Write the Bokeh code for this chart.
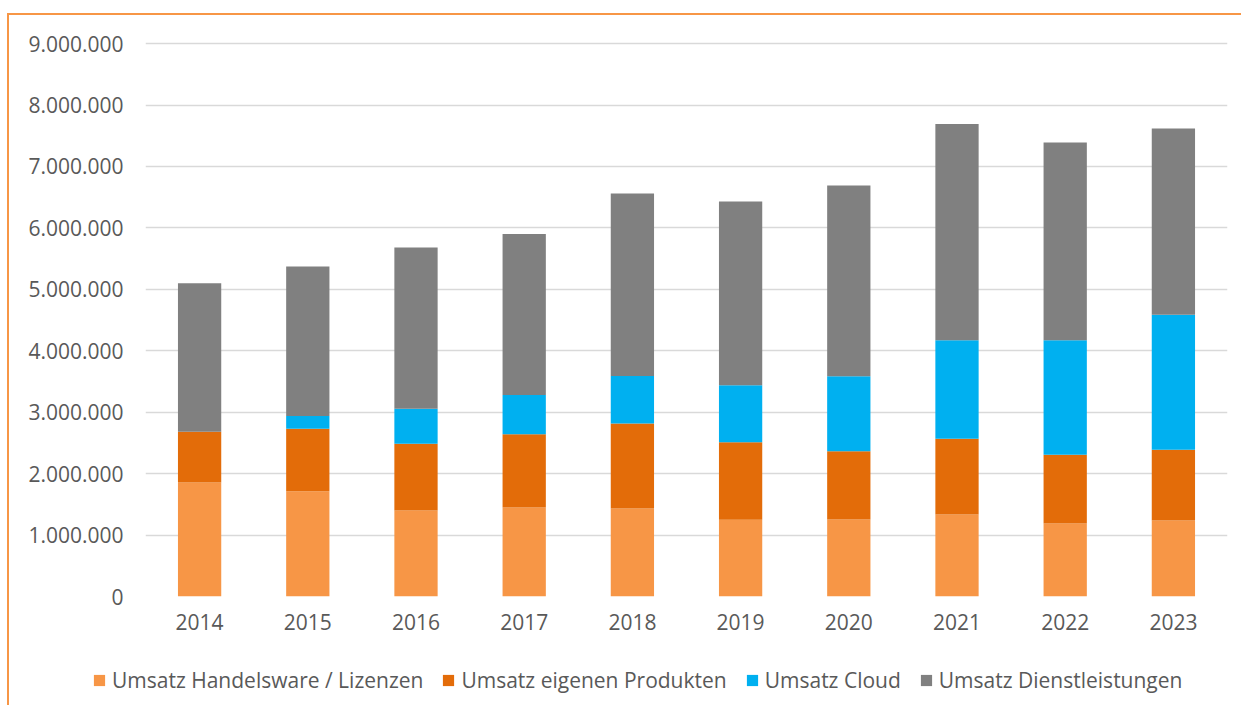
from bokeh.plotting import figure
from bokeh.layouts import column
from bokeh.models import ColumnDataSource, Legend, LegendItem, CustomJSTickFormatter, FixedTicker, Range1d
from bokeh.embed import file_html
from bokeh.resources import INLINE

years = ["2014", "2015", "2016", "2017", "2018", "2019", "2020", "2021", "2022", "2023"]
handelsware = [1855000, 1714000, 1400000, 1449000, 1432000, 1250000, 1253000, 1335000, 1188000, 1237000]
eigene = [825000, 1016000, 1085000, 1191000, 1384000, 1260000, 1112000, 1231000, 1118000, 1151000]
cloud = [0, 210000, 570000, 640000, 774000, 930000, 1221000, 1604000, 1864000, 2197000]
dienst = [2420000, 2430000, 2625000, 2620000, 2970000, 2990000, 3104000, 3520000, 3220000, 3032000]

series = ["handelsware", "eigene", "cloud", "dienst"]
labels = ["Umsatz Handelsware / Lizenzen", "Umsatz eigenen Produkten", "Umsatz Cloud", "Umsatz Dienstleistungen"]
colors = ["#F79646", "#E36C09", "#00B0F0", "#808080"]
yticks = [0, 1000000, 2000000, 3000000, 4000000, 5000000, 6000000, 7000000, 8000000, 9000000]

src = ColumnDataSource(dict(years=years, handelsware=handelsware, eigene=eigene, cloud=cloud, dienst=dienst))

FONT = "Open Sans"
TXT = "#595959"

p = figure(x_range=years, y_range=(0, 9050000), width=1232, height=630,
           output_backend="svg", toolbar_location=None,
           min_border_left=136, min_border_right=14, min_border_top=25, min_border_bottom=49)
p.frame_align = False

renderers = p.vbar_stack(series, x="years", width=0.4, color=colors, source=src, line_color=None)

p.outline_line_color = None
p.xgrid.grid_line_color = None
p.ygrid.grid_line_color = "#D9D9D9"
p.ygrid.grid_line_width = 1.5

p.yaxis.ticker = FixedTicker(ticks=yticks)
p.yaxis.formatter = CustomJSTickFormatter(code="return tick.toFixed(0).replace(/\\B(?=(\\d{3})+(?!\\d))/g, '.');")
for ax in (p.xaxis[0], p.yaxis[0]):
    ax.axis_line_color = None
    ax.major_tick_line_color = None
    ax.minor_tick_line_color = None
    ax.major_label_text_font = FONT
    ax.major_label_text_font_size = "21px"
    ax.major_label_text_color = TXT
p.yaxis.major_label_standoff = 16
p.xaxis.major_label_standoff = 11

# legend strip below the plot (its swatches use the same colours as the series)
lf = figure(width=1232, height=60, output_backend="svg", toolbar_location=None,
            x_range=Range1d(0, 1), y_range=Range1d(0, 1), x_axis_type=None, y_axis_type=None,
            min_border_left=0, min_border_right=0, min_border_top=0, min_border_bottom=0)
lf.frame_align = False
lf.outline_line_color = None
lf.grid.grid_line_color = None
legend_renderers = [lf.vbar(x=[5], top=[5], bottom=[4], width=0.1, color=c, line_color=None) for c in colors]

items = [LegendItem(label=l, renderers=[r]) for l, r in zip(labels, legend_renderers)]
legend = Legend(items=items, orientation="horizontal", location=(83, 11),
                label_text_font=FONT, label_text_font_size="21px", label_text_color=TXT,
                glyph_width=14, glyph_height=14, label_standoff=6, spacing=18,
                border_line_color=None, background_fill_alpha=0, margin=0, padding=0)
lf.add_layout(legend, "center")

layout = column(p, lf, spacing=0)
layout.styles = {"border-left": "2px solid #F79646", "border-top": "2px solid #F79646"}
layout.margin = (13, 0, 0, 7)

open("out.html", "w").write(file_html(layout, INLINE))
